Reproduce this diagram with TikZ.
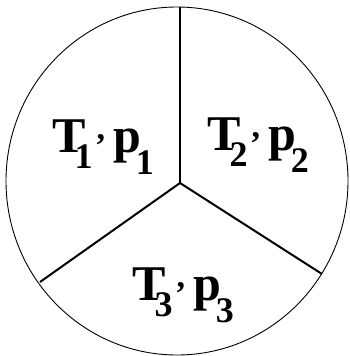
\documentclass[tikz,border=0pt]{standalone}
\usepackage{fontspec}
\setmainfont{Liberation Serif}
\usetikzlibrary{positioning}
\newcommand{\tpsub}[2]{\lower#2pt\hbox{\fontsize{36}{36}\selectfont\bfseries #1}}
\newcommand{\tplbl}[1]{T\kern-11pt\tpsub{#1}{16}\kern4pt\raise13pt\hbox{\fontsize{34}{34}\selectfont,}\kern8pt p\kern-5pt\tpsub{#1}{22}}
\tikzset{
  rim/.style={draw=black, line width=0.9pt},
  spoke/.style={draw=black, line width=2pt},
  lbl/.style={font=\fontsize{50}{50}\selectfont\bfseries, inner sep=0pt, anchor=base west}
}
\begin{document}
\begin{tikzpicture}[x=1pt,y=-1pt]
  \useasboundingbox (0,0) rectangle (350,356);
  % outer circle
  \draw[rim] (177,181) ellipse [x radius=171, y radius=174];
  % spokes
  \coordinate (ctr) at (180,183);
  \coordinate (top) at (180,7);
  \coordinate (lft) at (40,282);
  \coordinate (rgt) at (322,274);
  \draw[spoke] (ctr) -- (top);
  \draw[spoke] (ctr) -- (lft);
  \draw[spoke] (ctr) -- (rgt);
  % labels
  \node[lbl] (one) at (52,152) {\tplbl{1}};
  \node[lbl] (two) at (207,150) {\tplbl{2}};
  \node[lbl] (three) at (132,300) {\tplbl{3}};
\end{tikzpicture}
\end{document}
